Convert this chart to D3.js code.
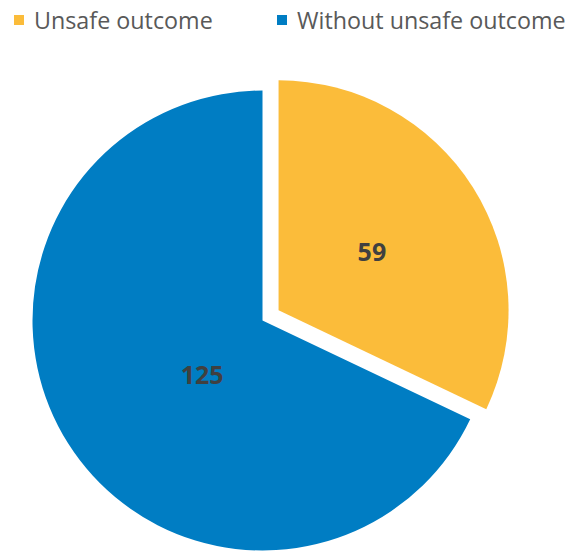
<!DOCTYPE html>
<html>
<head>
<meta charset="utf-8">
<script src="https://cdn.jsdelivr.net/npm/d3@7"></script>
<style>
  html, body { margin: 0; padding: 0; background: #ffffff; }
  svg { display: block; }
</style>
</head>
<body>
<svg id="chart" width="568" height="551"></svg>
<script>
const categories = ["Unsafe outcome", "Without unsafe outcome"];
const values = [59, 125];
const colors = ["#FBBC3A", "#007DC3"];
const exploded = [true, false];

const svg = d3.select("#chart");
const cx = 262.5, cy = 320.5, R = 230, explode = 19;

const pie = d3.pie().sort(null).startAngle(0).endAngle(2 * Math.PI);
const arcs = pie(values);
const arc = d3.arc().innerRadius(0).outerRadius(R);

const g = svg.append("g").attr("transform", `translate(${cx},${cy})`);

function offset(d, i) {
  if (!exploded[i]) return [0, 0];
  const a = (d.startAngle + d.endAngle) / 2;
  return [Math.sin(a) * explode, -Math.cos(a) * explode];
}

g.selectAll("path.slice")
  .data(arcs)
  .join("path")
  .attr("class", "slice")
  .attr("d", arc)
  .attr("fill", (d, i) => colors[i])
  .attr("transform", (d, i) => { const o = offset(d, i); return `translate(${o[0]},${o[1]})`; });

const labelR = [0.48, 0.35];
const labelShift = [0, -0.16];
g.selectAll("text.val")
  .data(arcs)
  .join("text")
  .attr("class", "val")
  .attr("transform", (d, i) => {
    const o = offset(d, i);
    const a = (d.startAngle + d.endAngle) / 2 + labelShift[i];
    const r = R * labelR[i];
    return `translate(${o[0] + Math.sin(a) * r},${o[1] - Math.cos(a) * r})`;
  })
  .attr("text-anchor", "middle")
  .attr("dominant-baseline", "central")
  .attr("font-family", "'Open Sans', sans-serif")
  .attr("font-weight", "bold")
  .attr("font-size", 25)
  .attr("fill", "#404040")
  .text(d => d.data);

const legendX = [14, 277];
const legend = svg.append("g");
const items = legend.selectAll("g")
  .data(categories)
  .join("g")
  .attr("transform", (d, i) => `translate(${legendX[i]},15)`);
items.append("rect")
  .attr("width", 10).attr("height", 10)
  .attr("fill", (d, i) => colors[i]);
items.append("text")
  .attr("x", 20).attr("y", 13.5)
  .attr("font-family", "'Open Sans', sans-serif")
  .attr("font-size", 23.3)
  .attr("fill", "#595959")
  .text(d => d);
</script>
</body>
</html>
